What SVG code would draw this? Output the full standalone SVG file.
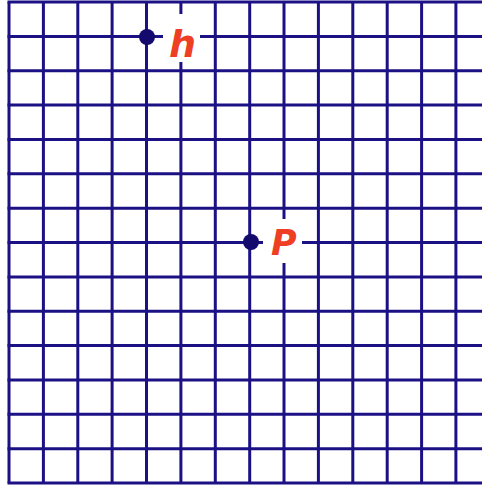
<svg xmlns="http://www.w3.org/2000/svg" width="482" height="489" viewBox="0 0 482 489">
<style>
.g line{stroke:#1c1085;stroke-width:3}
.dot{fill:#140a6e}
.lbl{font-family:"DejaVu Sans",sans-serif;font-style:italic;font-weight:bold;fill:#ee3f24}
</style>
<rect width="482" height="489" fill="#fff"/>
<g id="grid" class="g">
<line x1="9" y1="2" x2="9" y2="483"/>
<line x1="43.4" y1="2" x2="43.4" y2="483"/>
<line x1="77.8" y1="2" x2="77.8" y2="483"/>
<line x1="112.1" y1="2" x2="112.1" y2="483"/>
<line x1="146.5" y1="2" x2="146.5" y2="483"/>
<line x1="180.9" y1="2" x2="180.9" y2="483"/>
<line x1="215.3" y1="2" x2="215.3" y2="483"/>
<line x1="249.7" y1="2" x2="249.7" y2="483"/>
<line x1="284" y1="2" x2="284" y2="483"/>
<line x1="318.4" y1="2" x2="318.4" y2="483"/>
<line x1="352.8" y1="2" x2="352.8" y2="483"/>
<line x1="387.2" y1="2" x2="387.2" y2="483"/>
<line x1="421.6" y1="2" x2="421.6" y2="483"/>
<line x1="455.9" y1="2" x2="455.9" y2="483"/>
<line x1="7.5" y1="2" x2="482" y2="2"/>
<line x1="7.5" y1="36.4" x2="482" y2="36.4"/>
<line x1="7.5" y1="70.7" x2="482" y2="70.7"/>
<line x1="7.5" y1="105.1" x2="482" y2="105.1"/>
<line x1="7.5" y1="139.4" x2="482" y2="139.4"/>
<line x1="7.5" y1="173.8" x2="482" y2="173.8"/>
<line x1="7.5" y1="208.2" x2="482" y2="208.2"/>
<line x1="7.5" y1="242.5" x2="482" y2="242.5"/>
<line x1="7.5" y1="276.9" x2="482" y2="276.9"/>
<line x1="7.5" y1="311.2" x2="482" y2="311.2"/>
<line x1="7.5" y1="345.6" x2="482" y2="345.6"/>
<line x1="7.5" y1="380" x2="482" y2="380"/>
<line x1="7.5" y1="414.3" x2="482" y2="414.3"/>
<line x1="7.5" y1="448.7" x2="482" y2="448.7"/>
<line x1="7.5" y1="483" x2="482" y2="483"/>
</g>
<g id="point-h">
<rect x="163" y="14" width="37" height="48" fill="#fff"/>
<circle class="dot" cx="147" cy="37" r="8"/>
<text class="lbl" x="169" y="57" font-size="38">h</text>
</g>
<g id="point-P">
<rect x="263" y="219" width="39" height="44" fill="#fff"/>
<circle class="dot" cx="251" cy="242" r="8"/>
<text class="lbl" x="271" y="255" font-size="35">P</text>
</g>
</svg>
